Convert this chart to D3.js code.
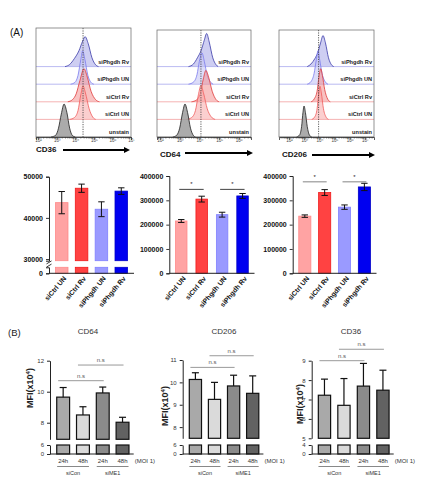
<!DOCTYPE html>
<html><head><meta charset="utf-8">
<script src="https://cdn.jsdelivr.net/npm/d3@7"></script>
<style>body{margin:0;background:#fff}svg{display:block;font-family:"Liberation Sans",Arial,Helvetica,sans-serif}</style>
</head><body><svg id="c" width="428" height="490"></svg>
<script>
// ================= DATA =================
// (A) flow histograms: rows bottom -> top
const histRows = ["unstain", "siCtrl UN", "siCtrl Rv", "siPhgdh UN", "siPhgdh Rv"];
const histTickValues = [2, 3, 4, 5, 6, 7];
const histTickLabels = ["10²", "10³", "10⁴", "10⁵", "10⁶", "10⁷"];
const histMarkers = ["CD36", "CD64", "CD206"];
const histGates = [4.42, 4.08, 3.95];
// each curve: [log10 intensity, relative count]
const cd36Hist = [
  [[2.7,0],[2.95,0.1],[3.1,0.5],[3.25,1.3],[3.4,1.87],[3.55,1.4],[3.7,0.5],[3.85,0.08],[4.0,0]],
  [[3.7,0],[3.95,0.1],[4.15,0.5],[4.3,1.4],[4.42,1.9],[4.55,1.5],[4.75,0.6],[4.95,0.12],[5.1,0]],
  [[3.6,0],[3.85,0.12],[4.05,0.45],[4.25,1.2],[4.47,1.88],[4.65,1.4],[4.85,0.6],[5.1,0.12],[5.3,0]],
  [[3.75,0],[3.98,0.1],[4.15,0.5],[4.3,1.4],[4.4,1.89],[4.52,1.4],[4.68,0.5],[4.85,0.1],[5.0,0]],
  [[3.45,0],[3.7,0.12],[3.95,0.45],[4.2,0.9],[4.4,1.45],[4.53,1.7],[4.7,1.3],[4.9,0.5],[5.1,0.1],[5.25,0]]
];
const cd64Hist = [
  [[2.65,0],[2.85,0.1],[3.0,0.5],[3.15,1.4],[3.27,1.87],[3.4,1.4],[3.55,0.5],[3.7,0.08],[3.8,0]],
  [[3.35,0],[3.6,0.1],[3.8,0.5],[3.95,1.4],[4.08,1.93],[4.22,1.45],[4.4,0.6],[4.6,0.15],[4.8,0]],
  [[3.6,0],[3.85,0.1],[4.05,0.5],[4.2,1.3],[4.33,1.78],[4.47,1.4],[4.65,0.6],[4.85,0.12],[5.0,0]],
  [[3.45,0],[3.7,0.12],[3.88,0.55],[4.0,1.3],[4.13,1.78],[4.25,1.3],[4.4,0.5],[4.58,0.1],[4.7,0]],
  [[3.45,0],[3.7,0.15],[3.9,0.5],[4.1,0.95],[4.25,1.5],[4.37,1.88],[4.5,1.4],[4.68,0.5],[4.85,0.1],[4.95,0]]
];
const cd206Hist = [
  [[2.5,0],[2.7,0.12],[2.83,0.6],[2.92,1.4],[2.99,1.76],[3.08,1.4],[3.2,0.6],[3.35,0.1],[3.5,0]],
  [[3.5,0],[3.7,0.15],[3.85,0.6],[3.95,1.4],[4.04,1.88],[4.13,1.5],[4.27,0.6],[4.45,0.12],[4.6,0]],
  [[3.45,0],[3.65,0.15],[3.85,0.6],[3.97,1.4],[4.09,1.88],[4.2,1.5],[4.35,0.7],[4.55,0.15],[4.72,0]],
  [[3.2,0],[3.45,0.15],[3.65,0.6],[3.8,1.4],[3.91,1.9],[4.02,1.4],[4.18,0.6],[4.4,0.12],[4.57,0]],
  [[3.2,0],[3.45,0.15],[3.7,0.45],[3.9,0.8],[4.08,1.35],[4.24,1.76],[4.4,1.35],[4.6,0.5],[4.8,0.1],[4.95,0]]
];

// (A) MFI bar charts
const barGroups = ["siCtrl UN", "siCtrl Rv", "siPhgdh UN", "siPhgdh Rv"];
const cd36Mfi = [43700, 47200, 42100, 46500];
const cd36Err = [2700, 1000, 1800, 800];
const cd64Mfi = [215000, 305000, 241000, 318000];
const cd64Err = [6000, 12000, 10000, 10000];
const cd206Mfi = [235000, 332000, 272000, 355000];
const cd206Err = [5000, 12000, 9000, 15000];
const cd36TicksA = [30000, 40000, 50000];
const mfiTicksA = [0, 100000, 200000, 300000, 400000];
const sigPairsA = [[0, 1], [2, 3]];
const cd64SigLevel = 345000;
const cd206SigLevel = 376000;

// (B) MFI (x10^4)
const timeLabels = ["24h", "48h", "24h", "48h"];
const siGroups = ["siCon", "siME1"];
const bCd64 = [9.65, 8.5, 9.92, 8.03];
const bCd64Err = [0.62, 0.53, 0.38, 0.32];
const bCd206 = [10.13, 9.24, 9.84, 9.51];
const bCd206Err = [0.3, 0.76, 0.48, 0.78];
const bCd36 = [7.22, 6.7, 7.69, 7.48];
const bCd36Err = [0.83, 1.38, 1.17, 1.03];
const bCd64Ticks = [8, 10, 12];
const bCd206Ticks = [8, 9, 10, 11];
const bCd36Ticks = [5, 6, 7, 8, 9];
const bSigPairs = [[0, 2], [1, 3]];
const bCd64Sig = [10.71, 11.72];
const bCd206Sig = [10.67, 11.19];
const bCd36Sig = [9.0, 9.59];

// ================= STYLE / LAYOUT =================
const svg = d3.select("#c");
svg.append("rect").attr("width", 428).attr("height", 490).attr("fill", "#fff");

const rowStyle = {
  "unstain":    {fill: "#9c9c9c", op: 0.85, stroke: "#1e1e1e", base: "#b0b0b0"},
  "siCtrl UN":  {fill: "#f7a8a8", op: 0.55, stroke: "#f05a5a", base: "#f3a0a0"},
  "siCtrl Rv":  {fill: "#f39090", op: 0.55, stroke: "#e03838", base: "#f3a0a0"},
  "siPhgdh UN": {fill: "#c4c4f4", op: 0.6,  stroke: "#7a7aee", base: "#a8a8ee"},
  "siPhgdh Rv": {fill: "#adadea", op: 0.6,  stroke: "#3a3aa8", base: "#a8a8ee"}
};
const barColorsA = [
  {fill: "#ffa3a3", stroke: "#ff8a8a"},
  {fill: "#ff4242", stroke: "#f01a1a"},
  {fill: "#9a9aff", stroke: "#8080ff"},
  {fill: "#0000f0", stroke: "#0000c8"}
];
const barColorsB = ["#a9a9a9", "#dadada", "#8b8b8b", "#626262"];

const histLayout = [
  {x0: 36, x1: 131, top: 28, bottom: 137, domain: [1.89, 7.0], titleX: 36, titleY: 152, ax0: 63, ax1: 130, ay: 150},
  {x0: 157, x1: 251, top: 30, bottom: 137, domain: [1.85, 6.62], titleX: 160, titleY: 157, ax0: 185, ax1: 253, ay: 153},
  {x0: 279, x1: 374, top: 30, bottom: 137, domain: [1.34, 7.6], titleX: 282, titleY: 157, ax0: 312, ax1: 375, ay: 155}
];
const rowH = 17.6;

// panel label
svg.append("text").attr("x", 10).attr("y", 36).attr("font-size", 10).attr("fill", "#111").text("(A)");

function drawHist(L, curves, gate, marker) {
  const g = svg.append("g");
  const x = d3.scaleLinear().domain(L.domain).range([L.x0, L.x1]);
  const h = d3.scaleLinear().domain([0, 1]).range([0, rowH]);
  const base = d3.scalePoint().domain(histRows).range([L.bottom, L.bottom - 4 * rowH]);
  // draw top row first so lower rows sit in front
  const order = histRows.slice().reverse();
  order.forEach(r => {
    const i = histRows.indexOf(r);
    const st = rowStyle[r];
    const b = base(r);
    g.append("line").attr("x1", L.x0).attr("x2", L.x1).attr("y1", b).attr("y2", b)
      .attr("stroke", st.base).attr("stroke-width", 0.8);
    const area = d3.area().x(d => x(d[0])).y0(b).y1(d => b - h(d[1])).curve(d3.curveMonotoneX);
    const line = d3.line().x(d => x(d[0])).y(d => b - h(d[1])).curve(d3.curveMonotoneX);
    g.append("path").attr("d", area(curves[i])).attr("fill", st.fill).attr("fill-opacity", st.op);
    g.append("path").attr("d", line(curves[i])).attr("fill", "none").attr("stroke", st.stroke).attr("stroke-width", 0.8);
    g.append("text").attr("x", L.x1 - 2).attr("y", b - 3).attr("text-anchor", "end")
      .attr("font-size", 5.6).attr("font-weight", "bold").attr("fill", "#222").text(r);
  });
  // gate line
  g.append("line").attr("x1", x(gate)).attr("x2", x(gate)).attr("y1", L.top).attr("y2", L.bottom)
    .attr("stroke", "#333").attr("stroke-width", 0.8).attr("stroke-dasharray", "1.2,1.2");
  // frame
  g.append("rect").attr("x", L.x0).attr("y", L.top).attr("width", L.x1 - L.x0).attr("height", L.bottom - L.top)
    .attr("fill", "none").attr("stroke", "#666").attr("stroke-width", 0.7);
  // axis
  const ticks = histTickValues.filter(t => t >= L.domain[0] && t <= L.domain[1]);
  const minor = [];
  for (let d = Math.floor(L.domain[0]); d < L.domain[1]; d++) {
    for (let k = 2; k <= 9; k++) { const v = d + Math.log10(k); if (v > L.domain[0] && v < L.domain[1]) minor.push(v); }
  }
  const axis = d3.axisBottom(x).tickValues(ticks).tickSize(3)
    .tickFormat(v => histTickLabels[histTickValues.indexOf(v)]);
  const ag = g.append("g").attr("transform", `translate(0,${L.bottom})`).call(axis);
  ag.select(".domain").attr("stroke", "#333").attr("stroke-width", 0.8);
  ag.selectAll(".tick line").attr("stroke", "#333").attr("stroke-width", 0.7);
  ag.selectAll(".tick text").attr("font-size", 4.5).attr("fill", "#444").attr("dy", "0.3em").attr("y", 4);
  g.selectAll(".minor").data(minor).enter().append("line")
    .attr("x1", d => x(d)).attr("x2", d => x(d)).attr("y1", L.bottom).attr("y2", L.bottom + 1.6)
    .attr("stroke", "#333").attr("stroke-width", 0.5);
  // title + arrow
  g.append("text").attr("x", L.titleX).attr("y", L.titleY).attr("font-size", 8).attr("font-weight", "bold")
    .attr("fill", "#111").text(marker);
  g.append("line").attr("x1", L.ax0).attr("x2", L.ax1 - 5).attr("y1", L.ay).attr("y2", L.ay)
    .attr("stroke", "#000").attr("stroke-width", 2);
  g.append("path").attr("d", `M${L.ax1 - 6},${L.ay - 3} L${L.ax1},${L.ay} L${L.ax1 - 6},${L.ay + 3} Z`).attr("fill", "#000");
}
drawHist(histLayout[0], cd36Hist, histGates[0], histMarkers[0]);
drawHist(histLayout[1], cd64Hist, histGates[1], histMarkers[1]);
drawHist(histLayout[2], cd206Hist, histGates[2], histMarkers[2]);

// ---------- (A) bar charts ----------
function styleAxisA(ag) {
  ag.select(".domain").attr("stroke", "#222").attr("stroke-width", 1);
  ag.selectAll(".tick line").attr("stroke", "#222").attr("stroke-width", 0.9);
  ag.selectAll(".tick text").attr("font-size", 7).attr("font-weight", "bold").attr("fill", "#111");
}
function drawBarsA(cfg) {
  const g = svg.append("g");
  const x = d3.scaleBand().domain(barGroups).range(cfg.xr).paddingInner(cfg.pi).paddingOuter(cfg.po);
  const y = cfg.y;
  // bars (upper or full)
  g.selectAll(".bar").data(cfg.vals).enter().append("rect")
    .attr("x", (d, i) => x(barGroups[i]) + 0.5).attr("width", x.bandwidth() - 1)
    .attr("y", d => y(d)).attr("height", d => y.range()[0] - y(d))
    .attr("fill", (d, i) => barColorsA[i].fill).attr("stroke", (d, i) => barColorsA[i].stroke).attr("stroke-width", 0.8);
  if (cfg.yLow) {
    const yl = cfg.yLow;
    g.selectAll(".barl").data(cfg.vals).enter().append("rect")
      .attr("x", (d, i) => x(barGroups[i]) + 0.5).attr("width", x.bandwidth() - 1)
      .attr("y", yl.range()[1]).attr("height", yl.range()[0] - yl.range()[1])
      .attr("fill", (d, i) => barColorsA[i].fill).attr("stroke", (d, i) => barColorsA[i].stroke).attr("stroke-width", 0.8);
  }
  // error bars
  cfg.vals.forEach((v, i) => {
    const cx = x(barGroups[i]) + x.bandwidth() / 2, e = cfg.errs[i];
    g.append("line").attr("x1", cx).attr("x2", cx).attr("y1", y(v - e)).attr("y2", y(v + e)).attr("stroke", "#111").attr("stroke-width", 1);
    [v - e, v + e].forEach(t => g.append("line").attr("x1", cx - 3.2).attr("x2", cx + 3.2).attr("y1", y(t)).attr("y2", y(t))
      .attr("stroke", "#111").attr("stroke-width", 1));
  });
  // axes
  const ay = g.append("g").attr("transform", `translate(${cfg.xr[0]},0)`)
    .call(d3.axisLeft(y).tickValues(cfg.ticks).tickSize(3).tickFormat(d3.format("d")));
  styleAxisA(ay);
  if (cfg.yLow) {
    const al = g.append("g").attr("transform", `translate(${cfg.xr[0]},0)`)
      .call(d3.axisLeft(cfg.yLow).tickValues([0]).tickSize(3).tickFormat(d3.format("d")));
    styleAxisA(al);
    const by = (y.range()[0] + cfg.yLow.range()[1]) / 2;
    [-1.6, 1.6].forEach(o => g.append("line").attr("x1", cfg.xr[0] - 2.5).attr("x2", cfg.xr[0] + 2.5)
      .attr("y1", by + o + 1.5).attr("y2", by + o - 1.5).attr("stroke", "#222").attr("stroke-width", 0.9));
  }
  const yBase = cfg.yLow ? cfg.yLow.range()[0] : y.range()[0];
  g.append("line").attr("x1", cfg.xr[0]).attr("x2", cfg.xr[1]).attr("y1", yBase).attr("y2", yBase)
    .attr("stroke", "#222").attr("stroke-width", 1);
  // x labels
  barGroups.forEach((c, i) => {
    const cx = x(c) + x.bandwidth() / 2 + 3;
    g.append("text").attr("transform", `translate(${cx},${yBase + 4}) rotate(-50)`)
      .attr("text-anchor", "end").attr("dy", "0.35em").attr("font-size", 6.8).attr("font-weight", "bold").attr("fill", "#111").text(c);
  });
  // significance
  if (cfg.sig !== undefined) {
    sigPairsA.forEach(([a, b]) => {
      const xa = x(barGroups[a]) + x.bandwidth() / 2 - 2, xb = x(barGroups[b]) + x.bandwidth() / 2 + 2;
      g.append("line").attr("x1", xa).attr("x2", xb).attr("y1", y(cfg.sig)).attr("y2", y(cfg.sig))
        .attr("stroke", cfg.sigColor).attr("stroke-width", 0.8);
      g.append("text").attr("x", (xa + xb) / 2).attr("y", y(cfg.sig) - 3).attr("text-anchor", "middle")
        .attr("font-size", 6).attr("fill", "#222").text("*");
    });
  }
}
drawBarsA({xr: [49, 134], pi: 0.318, po: 0.3, vals: cd36Mfi, errs: cd36Err, ticks: cd36TicksA,
  y: d3.scaleLinear().domain([29600, 50000]).range([260.7, 176.7]),
  yLow: d3.scaleLinear().domain([0, 1]).range([273.3, 267.3])});
drawBarsA({xr: [169.3, 254.5], pi: 0.39, po: 0.28, vals: cd64Mfi, errs: cd64Err, ticks: mfiTicksA,
  y: d3.scaleLinear().domain([0, 400000]).range([273.3, 176]), sig: cd64SigLevel, sigColor: "#111"});
drawBarsA({xr: [292.7, 376.5], pi: 0.34, po: 0.28, vals: cd206Mfi, errs: cd206Err, ticks: mfiTicksA,
  y: d3.scaleLinear().domain([0, 400000]).range([273.3, 176]), sig: cd206SigLevel, sigColor: "#666"});

// ---------- (B) ----------
svg.append("text").attr("x", 8).attr("y", 336).attr("font-size", 9.5).attr("fill", "#222").text("(B)");

function drawBarsB(cfg) {
  const g = svg.append("g");
  const x = d3.scaleBand().domain(d3.range(4)).range(cfg.xr).paddingInner(cfg.pi).paddingOuter(cfg.po);
  const y = cfg.y, yl = cfg.yLow;
  const cxs = d3.range(4).map(i => x(i) + x.bandwidth() / 2);
  // title
  g.append("text").attr("x", cfg.titleX).attr("y", 334).attr("text-anchor", "middle").attr("font-size", 8)
    .attr("fill", "#333").text(cfg.title);
  // bars upper
  g.selectAll(".bu").data(cfg.vals).enter().append("rect")
    .attr("x", (d, i) => x(i)).attr("width", x.bandwidth())
    .attr("y", d => y(d)).attr("height", d => y.range()[0] - y(d))
    .attr("fill", (d, i) => barColorsB[i]).attr("stroke", "#111").attr("stroke-width", 1.2);
  g.selectAll(".bl").data(cfg.vals).enter().append("rect")
    .attr("x", (d, i) => x(i)).attr("width", x.bandwidth())
    .attr("y", yl.range()[1]).attr("height", yl.range()[0] - yl.range()[1])
    .attr("fill", (d, i) => barColorsB[i]).attr("stroke", "#111").attr("stroke-width", 1.2);
  // error bars (upper only)
  cfg.vals.forEach((v, i) => {
    const e = cfg.errs[i];
    g.append("line").attr("x1", cxs[i]).attr("x2", cxs[i]).attr("y1", y(v)).attr("y2", y(v + e)).attr("stroke", "#111").attr("stroke-width", 1.2);
    g.append("line").attr("x1", cxs[i] - 3.5).attr("x2", cxs[i] + 3.5).attr("y1", y(v + e)).attr("y2", y(v + e)).attr("stroke", "#111").attr("stroke-width", 1.2);
  });
  // axes
  const styleB = ag => {
    ag.select(".domain").attr("stroke", "#222").attr("stroke-width", 1);
    ag.selectAll(".tick line").attr("stroke", "#222");
    ag.selectAll(".tick text").attr("font-size", 6).attr("fill", "#333");
  };
  styleB(g.append("g").attr("transform", `translate(${cfg.xr[0]},0)`)
    .call(d3.axisLeft(y).tickValues(cfg.ticks).tickSize(3).tickSizeOuter(0).tickFormat(d3.format("d"))));
  styleB(g.append("g").attr("transform", `translate(${cfg.xr[0]},0)`)
    .call(d3.axisLeft(yl).tickValues(yl.domain()).tickSize(3).tickSizeOuter(0).tickFormat(d3.format("d"))));
  g.append("line").attr("x1", cfg.xr[0]).attr("x2", cfg.xr[1] - 2).attr("y1", yl.range()[0]).attr("y2", yl.range()[0])
    .attr("stroke", "#222").attr("stroke-width", 1);
  // y title
  const yt = g.append("text").attr("transform", `translate(${cfg.ytX},${cfg.ytY}) rotate(-90)`)
    .attr("text-anchor", "middle").attr("font-size", 9).attr("font-weight", "bold").attr("fill", "#222");
  yt.append("tspan").text("MFI(x10");
  yt.append("tspan").attr("font-size", 6).attr("dy", -3.5).text("4");
  yt.append("tspan").attr("dy", 3.5).text(")");
  // x labels
  const by = yl.range()[0];
  timeLabels.forEach((t, i) => g.append("text").attr("x", cxs[i]).attr("y", by + 9).attr("text-anchor", "middle")
    .attr("font-size", 6).attr("fill", "#333").text(t));
  g.append("text").attr("x", cfg.xr[1] - 1).attr("y", by + 9).attr("font-size", 6).attr("fill", "#333").text("(MOI 1)");
  siGroups.forEach((s, k) => {
    const a = cxs[2 * k] - 6, b = cxs[2 * k + 1] + 6;
    g.append("line").attr("x1", a).attr("x2", b).attr("y1", by + 12.5).attr("y2", by + 12.5).attr("stroke", "#555").attr("stroke-width", 0.7);
    g.append("text").attr("x", (a + b) / 2).attr("y", by + 21).attr("text-anchor", "middle").attr("font-size", 5.5).attr("fill", "#333").text(s);
  });
  // n.s lines
  bSigPairs.forEach(([a, b], k) => {
    const xa = cxs[a] - 5, xb = cxs[b] + 1, yy = y(cfg.sig[k]);
    g.append("line").attr("x1", xa).attr("x2", xb).attr("y1", yy).attr("y2", yy).attr("stroke", "#999").attr("stroke-width", 1);
    g.append("text").attr("x", (xa + xb) / 2).attr("y", yy - 3).attr("text-anchor", "middle").attr("font-size", 6).attr("fill", "#555").text("n.s");
  });
}
drawBarsB({title: "CD64", titleX: 88, xr: [50, 135.7], pi: 0.35, po: 0.34, vals: bCd64, errs: bCd64Err, ticks: bCd64Ticks,
  y: d3.scaleLinear().domain([6.93, 12]).range([439.3, 360.7]), yLow: d3.scaleLinear().domain([0, 6]).range([454, 445]),
  sig: bCd64Sig, ytX: 33, ytY: 388});
drawBarsB({title: "CD206", titleX: 224, xr: [182.7, 265.4], pi: 0.36, po: 0.345, vals: bCd206, errs: bCd206Err, ticks: bCd206Ticks,
  y: d3.scaleLinear().domain([7.5, 11]).range([438.3, 360]), yLow: d3.scaleLinear().domain([0, 6]).range([454, 445]),
  sig: bCd206Sig, ytX: 168, ytY: 406});
drawBarsB({title: "CD36", titleX: 351, xr: [311.7, 395.7], pi: 0.37, po: 0.34, vals: bCd36, errs: bCd36Err, ticks: bCd36Ticks,
  y: d3.scaleLinear().domain([5, 9]).range([438.3, 360.7]), yLow: d3.scaleLinear().domain([0, 4]).range([454, 445]),
  sig: bCd36Sig, ytX: 303, ytY: 404});
</script></body></html>
